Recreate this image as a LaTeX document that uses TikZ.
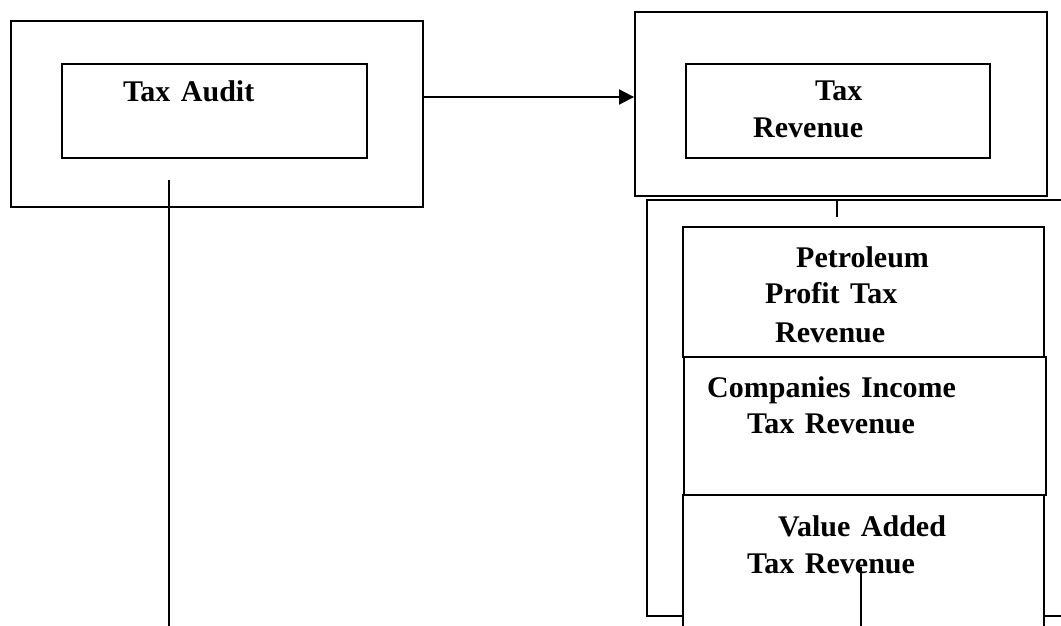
\documentclass[tikz,border=0pt]{standalone}
\usepackage{fontspec}
\setmainfont{Liberation Serif}[WordSpace={1.4}]
\usetikzlibrary{arrows.meta}
\tikzset{
  box/.style={draw=black, line width=1.9pt, fill=white, rectangle, inner sep=0pt},
  wire/.style={draw=black, line width=1.7pt},
  lbl/.style={anchor=base west, inner sep=0pt, font=\fontsize{30}{36}\selectfont\bfseries},
}
\begin{document}
\begin{tikzpicture}[x=1pt,y=-1pt]
\useasboundingbox (0,0) rectangle (1061,626);
\clip (0,0) rectangle (1061,626);
% left group
\node[box, minimum width=412pt, minimum height=186pt] (auditouter) at (217,114) {};
\node[box, minimum width=305pt, minimum height=94pt] (auditinner) at (214.5,111) {};
\node[lbl] (taudit) at (123,102) {Tax Audit};
% right group
\node[box, minimum width=412pt, minimum height=184pt] (revouter) at (841,104) {};
\node[box, minimum width=304pt, minimum height=94pt] (revinner) at (838,111) {};
\node[lbl] (trev1) at (815,101) {Tax};
\node[lbl] (trev2) at (753,137) {Revenue};
% arrow
\coordinate (ay) at (0,97);
\draw[wire, line width=2pt, -{Triangle[length=15pt,width=15pt]}] (auditouter.east |- ay) -- (revouter.west |- ay);
% audit down line
\coordinate (auditstart) at (169,180);
\coordinate (auditfoot) at (169,640);
\draw[wire] (auditstart) -- (auditfoot);
% bracket
\node[draw=black, line width=2pt, rectangle, inner sep=0pt, minimum width=433pt, minimum height=416pt] (bracket) at (863.5,408) {};
\coordinate (cstart) at (837,200);
\coordinate (cend) at (837,217);
\draw[wire] (cstart) -- (cend);
% stacked boxes
\node[box, minimum width=361pt, minimum height=130pt] (ppt) at (863.5,292) {};
\node[box, minimum width=362pt, minimum height=138pt] (cit) at (865,426) {};
\node[box, minimum width=361pt, minimum height=145pt] (vat) at (863.5,567.5) {};
\node[lbl] (p1) at (796,267) {Petroleum};
\node[lbl] (p2) at (765,303) {Profit Tax};
\node[lbl] (p3) at (775,342) {Revenue};
\node[lbl] (c1) at (707,397) {Companies Income};
\node[lbl] (c2) at (747,433) {Tax Revenue};
\node[lbl] (v1) at (778,536) {Value Added};
\node[lbl] (v2) at (747,573) {Tax Revenue};
\coordinate (vstart) at (861,567);
\coordinate (vend) at (861,640);
\draw[wire] (vstart) -- (vend);
\end{tikzpicture}
\end{document}
